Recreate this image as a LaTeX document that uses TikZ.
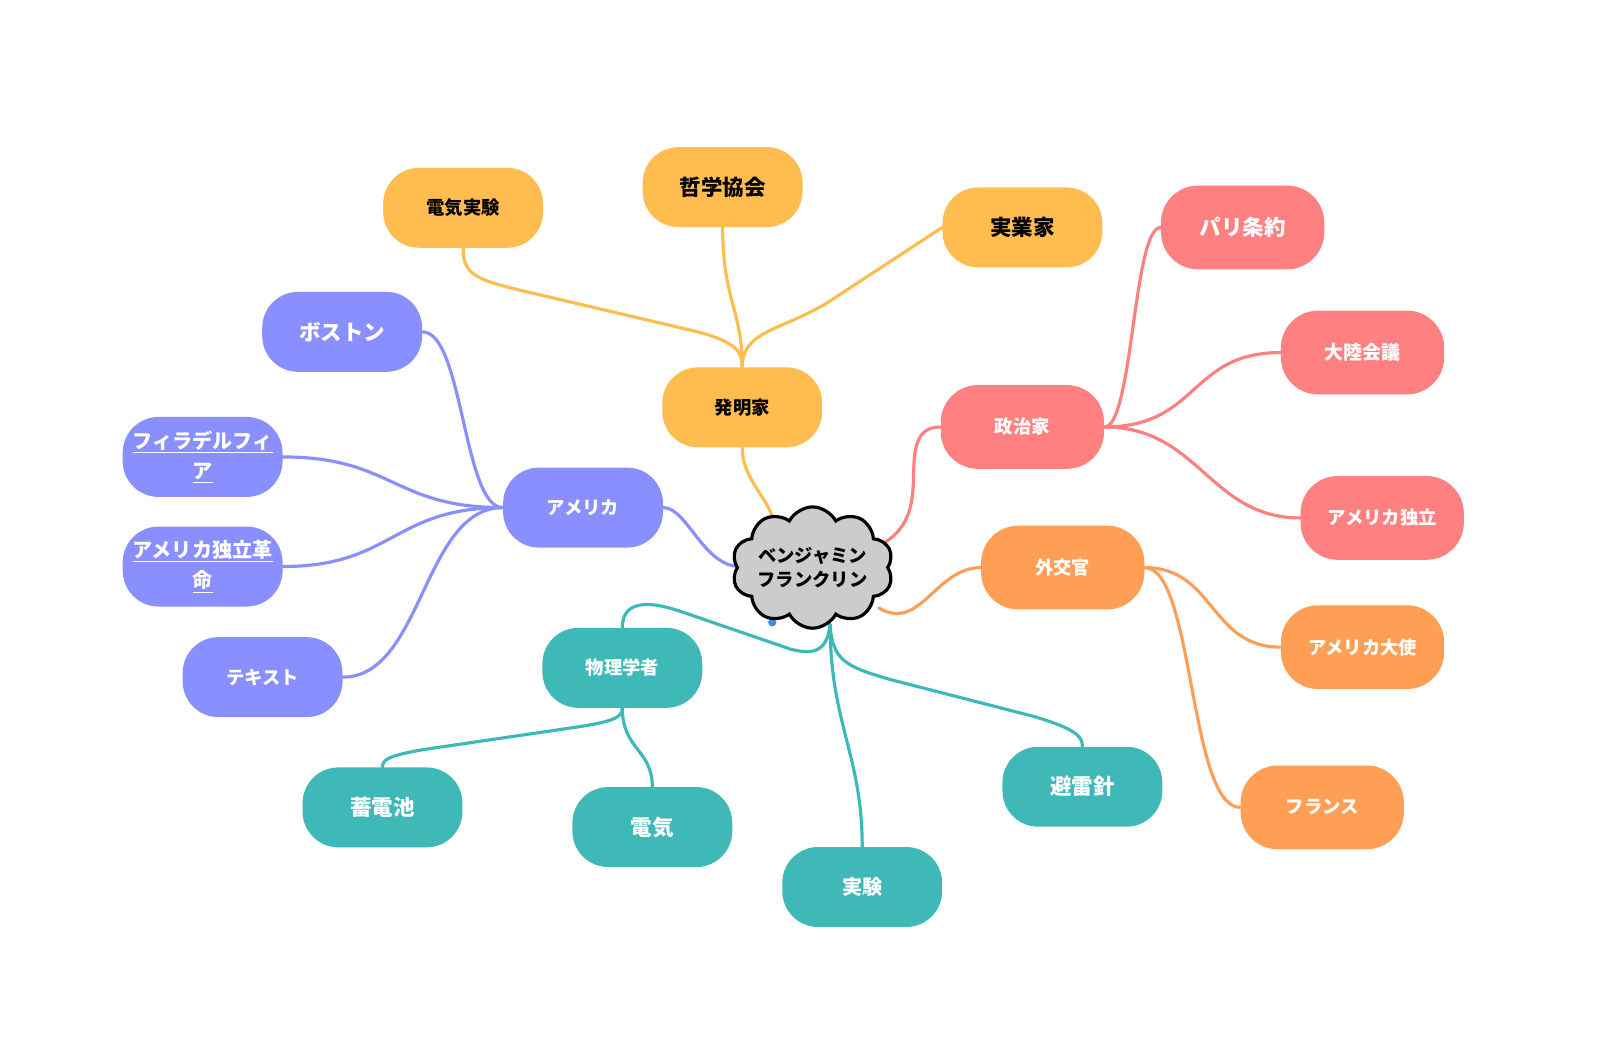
\documentclass[tikz,border=0pt]{standalone}
\usepackage{fontspec}
\setmainfont{Noto Sans CJK JP}
\usetikzlibrary{shapes.symbols}
\definecolor{cyel}{HTML}{FFBC4F}
\definecolor{cpnk}{HTML}{FF8080}
\definecolor{corg}{HTML}{FF9F55}
\definecolor{ctea}{HTML}{3FB8B8}
\definecolor{cpur}{HTML}{8A8FFF}
\definecolor{cgry}{HTML}{CCCCCC}
\definecolor{cblu}{HTML}{3D8EF0}
\pgfdeclarelayer{bg}
\pgfsetlayers{bg,main}
\tikzset{
 pill/.style={rounded corners=26pt, minimum width=116pt, minimum height=58pt, inner sep=0pt, align=center, font=\bfseries\fontsize{13.3pt}{17pt}\selectfont},
 pillB/.style={pill, rounded corners=27pt, minimum width=118.5pt, minimum height=60.75pt},
 big/.style={font=\bfseries\fontsize{15.6pt}{20pt}\selectfont},
 mid/.style={font=\bfseries\fontsize{14.6pt}{22pt}\selectfont},
 yel/.style={pill, fill=cyel, text=black},
 pnk/.style={pillB, fill=cpnk, text=white},
 org/.style={pillB, fill=corg, text=white},
 tea/.style={pill, fill=ctea, text=white},
 pur/.style={pill, fill=cpur, text=white},
 link/.style={line width=2.3pt, line cap=round},
 cloudnode/.style={cloud, cloud puffs=10, cloud puff arc=125, aspect=1.3, minimum width=117pt, minimum height=88pt, inner sep=0pt, fill=cgry, draw=black, line width=2.3pt},
 cloudtext/.style={inner sep=0pt, align=center, text=black, font=\bfseries\fontsize{13.3pt}{18pt}\selectfont},
}
\begin{document}
\begin{tikzpicture}[x=0.75pt,y=-0.75pt]
\useasboundingbox (0,0) rectangle (1568,1024.4);
% center
\node[cloudnode] (cl) at (786,549) {};
\node[cloudtext] (clt) at (cl.center) {ベンジャミン\\フランクリン};
\coordinate (cT) at (748,502);
\coordinate (cL) at (716,548);
\coordinate (cR1) at (850,528);
\coordinate (cR2) at (850,588);
\coordinate (cB) at (803,604);
% yellow
\node[yel] (hat) at (718,394) {発明家};
\node[yel] (dkj) at (448,201) {電気実験};
\node[yel,big] (tet) at (699,181) {哲学協会};
\node[yel,big] (jgk) at (989,220) {実業家};
% pink
\node[pnk] (sei) at (989,413) {政治家};
\node[pnk,big] (pari) at (1202,220) {パリ条約};
\node[pnk,font=\bfseries\fontsize{13.8pt}{17pt}\selectfont] (tai) at (1318,341) {大陸会議};
\node[pnk] (doku) at (1337,501) {アメリカ独立};
% orange
\node[org] (gai) at (1028,549) {外交官};
\node[org] (tai2) at (1318,626) {アメリカ大使};
\node[org] (fra) at (1279,781) {フランス};
% teal
\node[tea] (but) at (602,646) {物理学者};
\node[tea,big] (chi) at (370,781) {蓄電池};
\node[tea,big] (den) at (631,800) {電気};
\node[tea,mid] (jik) at (834,858) {実験};
\node[tea,big] (hir) at (1047,761) {避雷針};
% purple
\node[pur] (ame) at (564,491) {アメリカ};
\node[pur,big] (bos) at (331,321) {ボストン};
\node[pur,mid] (phi) at (196,442) {\underline{フィラデルフィ}\\\underline{ア}};
\node[pur,mid] (kak) at (196,548) {\underline{アメリカ独立革}\\\underline{命}};
\node[pur] (tex) at (254,655) {テキスト};
\begin{pgfonlayer}{bg}
\fill[cblu] (747,602) circle (4);
% yellow links
\draw[link,cyel] (dkj.south) .. controls (448,265) and (460,270) .. (500,280) -- (675,321) .. controls (712,331) and (718,340) .. (hat.north);
\draw[link,cyel] (tet.south) .. controls (699,290) and (718,300) .. (hat.north);
\draw[link,cyel] (jgk.west) -- (800,293) .. controls (755,320) and (718,320) .. (hat.north);
\draw[link,cyel] (hat.south) .. controls (718,462) and (740,478) .. (cT);
% pink links
\draw[link,cpnk] (cR1) .. controls (885,510) and (883,480) .. (884,450) .. controls (885,420) and (895,413) .. (sei.west);
\draw[link,cpnk] (sei.east) .. controls (1096,413) and (1096,220) .. (pari.west);
\draw[link,cpnk] (sei.east) .. controls (1160,413) and (1150,341) .. (tai.west);
\draw[link,cpnk] (sei.east) .. controls (1160,413) and (1170,501) .. (doku.west);
% orange links
\draw[link,corg] (cR2) .. controls (890,612) and (905,549) .. (gai.west);
\draw[link,corg] (gai.east) .. controls (1175,549) and (1170,626) .. (tai2.west);
\draw[link,corg] (gai.east) .. controls (1155,549) and (1150,781) .. (fra.west);
% teal links
\draw[link,ctea] (cB) .. controls (800,632) and (785,633) .. (765,628) -- (660,592) .. controls (620,578) and (602,585) .. (but.north);
\draw[link,ctea] (cB) .. controls (803,700) and (834,730) .. (jik.north);
\draw[link,ctea] (cB) .. controls (805,640) and (820,645) .. (860,657) -- (1000,693) .. controls (1040,705) and (1047,712) .. (hir.north);
\draw[link,ctea] (but.south) .. controls (602,695) and (590,698) .. (560,703) -- (410,725) .. controls (375,731) and (370,735) .. (chi.north);
\draw[link,ctea] (but.south) .. controls (602,725) and (631,725) .. (den.north);
% purple links
\draw[link,cpur] (ame.east) .. controls (665,491) and (680,548) .. (cL);
\draw[link,cpur] (ame.west) .. controls (448,491) and (448,321) .. (bos.east);
\draw[link,cpur] (ame.west) .. controls (380,491) and (380,442) .. (phi.east);
\draw[link,cpur] (ame.west) .. controls (380,491) and (380,548) .. (kak.east);
\draw[link,cpur] (ame.west) .. controls (409,491) and (409,655) .. (tex.east);
\end{pgfonlayer}
\end{tikzpicture}
\end{document}
